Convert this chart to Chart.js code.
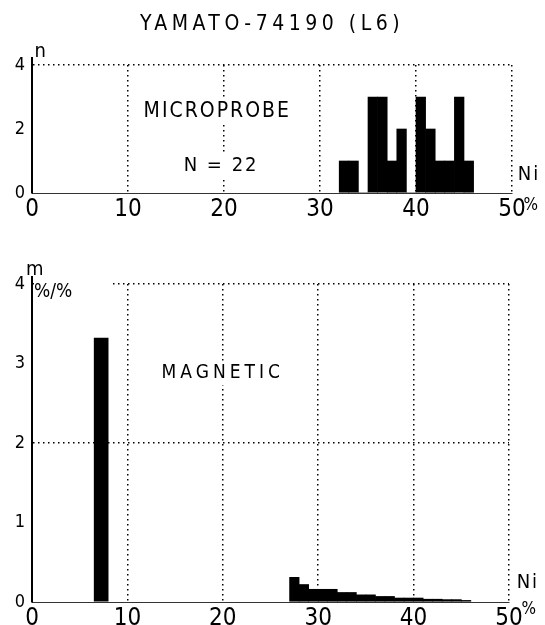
<!DOCTYPE html>
<html lang="en">
<head>
<meta charset="UTF-8">
<title>YAMATO-74190 (L6)</title>
<script src="https://cdn.jsdelivr.net/npm/chart.js@4.4.1/dist/chart.umd.min.js"></script>
<style>
  body { margin: 0; background: #fff; }
  #wrap { position: relative; width: 545px; height: 625px; }
  canvas { position: absolute; left: 0; }
  #top { top: 0; }
  #bottom { top: 240px; }
</style>
</head>
<body>
<div id="wrap">
  <canvas id="top" width="545" height="240"></canvas>
  <canvas id="bottom" width="545" height="385"></canvas>
</div>
<script>
// microprobe: grains per 1 % Ni bin (bin start, % Ni)
var probeBins   = [32, 33, 34, 35, 36, 37, 38, 39, 40, 41, 42, 43, 44, 45];
var probeCounts = [1,  1,  0,  3,  3,  1,  2,  0,  3,  2,  1,  1,  3,  1];

// magnetic fraction, wt % per % Ni
var kamaciteBin   = [6.5, 8];   // bin start, bin end
var kamaciteValue = [3.32];
var taeniteBins   = [27, 28, 29, 30, 31, 32, 33, 34, 35, 36, 37, 38, 39, 40, 41, 42, 43, 44, 45];
var taeniteValues = [0.31, 0.22, 0.16, 0.16, 0.16, 0.12, 0.12, 0.09, 0.09, 0.07, 0.07, 0.05, 0.05, 0.05, 0.035, 0.035, 0.03, 0.03, 0.02];

var xTicks      = [0, 10, 20, 30, 40, 50];
var probeYTicks = [0, 2, 4];
var magYTicks   = [0, 1, 2, 3, 4];

var FONT = "'DejaVu Sans Condensed', 'DejaVu Sans', sans-serif";

var notesPlugin = {
  id: 'notes',
  beforeDatasetsDraw: function (chart, args, opts) {
    var xs = chart.scales.x, ys = chart.scales.y, ctx = chart.ctx;
    (opts.gaps || []).forEach(function (g) {
      var y = ys.getPixelForValue(g.y);
      ctx.save();
      ctx.fillStyle = '#fff';
      ctx.fillRect(xs.getPixelForValue(g.from) + 2, y - 2, xs.getPixelForValue(g.to) - xs.getPixelForValue(g.from) - 2, 4);
      ctx.restore();
    });
    // y axis runs on a little past the top tick
    ctx.save();
    ctx.strokeStyle = '#000';
    ctx.lineWidth = 2;
    ctx.beginPath();
    ctx.moveTo(xs.left, ys.top);
    ctx.lineTo(xs.left, ys.top - 8);
    ctx.stroke();
    ctx.restore();
  },
  afterDraw: function (chart, args, opts) {
    var xs = chart.scales.x, ys = chart.scales.y, ctx = chart.ctx;
    (opts.items || []).forEach(function (n) {
      var px = xs.getPixelForValue(n.x), py = ys.getPixelForValue(n.y);
      ctx.save();
      ctx.font = n.font;
      ctx.letterSpacing = n.spacing || '0px';
      ctx.textAlign = n.align || 'center';
      ctx.textBaseline = 'middle';
      if (n.clear) {
        var w = ctx.measureText(n.text).width;
        var x0 = n.align === 'left' ? px : px - w / 2;
        ctx.fillStyle = '#fff';
        ctx.fillRect(x0 - 4, py - n.clear / 2, w + 8, n.clear);
      }
      ctx.fillStyle = '#000';
      ctx.fillText(n.text, px, py);
      ctx.restore();
    });
  }
};

function xScale(height) {
  return {
    type: 'linear',
    min: 0,
    max: 50,
    offset: false,
    afterBuildTicks: function (s) { s.ticks = xTicks.map(function (v) { return { value: v }; }); },
    afterFit: function (s) { s.height = height; },
    grid: {
      offset: false,
      drawTicks: false,
      lineWidth: 1.5,
      color: function (c) { return c.tick && c.tick.value === 0 ? 'rgba(0,0,0,0)' : '#000'; }
    },
    border: { color: '#333', width: 1, dash: [1.5, 3.5] },
    ticks: { color: '#000', padding: 2, maxRotation: 0, font: { family: FONT, size: 24 } }
  };
}

function yScale(ticks, lines) {
  return {
    min: 0,
    max: 4,
    afterBuildTicks: function (s) { s.ticks = ticks.map(function (v) { return { value: v }; }); },
    afterFit: function (s) { s.width = 32; },
    grid: {
      drawTicks: false,
      lineWidth: 1.5,
      color: function (c) { return c.tick && lines.indexOf(c.tick.value) >= 0 ? '#000' : 'rgba(0,0,0,0)'; }
    },
    border: { color: '#000', width: 2, dash: [1.5, 3.5] },
    ticks: { color: '#000', padding: 7, font: { family: FONT, size: 18 } }
  };
}

var barStyle = { backgroundColor: '#000', borderWidth: 0, barPercentage: 1, categoryPercentage: 1, grouped: false };

new Chart(document.getElementById('top'), {
  type: 'bar',
  data: {
    datasets: [Object.assign({
      label: 'microprobe',
      data: probeBins.map(function (b, i) { return { x: b + 0.5, y: probeCounts[i] }; })
    }, barStyle)]
  },
  options: {
    responsive: false,
    animation: false,
    layout: { padding: { top: 65, right: 33, bottom: 17, left: 0 } },
    scales: { x: xScale(30), y: yScale(probeYTicks, [4]) },
    plugins: {
      legend: { display: false },
      tooltip: { enabled: false },
      notes: {
        items: [
          { text: 'YAMATO-74190 (L6)', x: 25, y: 5.25, font: '21px ' + FONT, spacing: '4.5px' },
          { text: 'MICROPROBE', x: 19.3, y: 2.56, font: '21px ' + FONT, spacing: '2px', clear: 24 },
          { text: 'N = 22', x: 19.7, y: 0.84, font: '20px ' + FONT, spacing: '2px', clear: 24 },
          { text: 'n', x: 0.85, y: 4.4, font: '20px ' + FONT },
          { text: 'Ni', x: 50.6, y: 0.56, font: '20px ' + FONT, align: 'left', spacing: '2px' },
          { text: '%', x: 51.2, y: -0.38, font: '17px ' + FONT, align: 'left' }
        ]
      }
    }
  },
  plugins: [notesPlugin]
});

new Chart(document.getElementById('bottom'), {
  type: 'bar',
  data: {
    datasets: [
      Object.assign({
        label: 'kamacite',
        barThickness: 14,
        data: kamaciteValue.map(function (v) { return { x: (kamaciteBin[0] + kamaciteBin[1]) / 2, y: v }; })
      }, barStyle),
      Object.assign({
        label: 'taenite',
        data: taeniteBins.map(function (b, i) { return { x: b + 0.5, y: taeniteValues[i] }; })
      }, barStyle)
    ]
  },
  options: {
    responsive: false,
    animation: false,
    layout: { padding: { top: 44, right: 36, bottom: 0, left: 0 } },
    scales: { x: xScale(23), y: yScale(magYTicks, [2, 4]) },
    plugins: {
      legend: { display: false },
      tooltip: { enabled: false },
      notes: {
        gaps: [{ y: 4, from: 0, to: 8.2 }],
        items: [
          { text: 'MAGNETIC', x: 20, y: 2.88, font: '19px ' + FONT, spacing: '4px', clear: 24 },
          { text: 'm', x: 0.3, y: 4.18, font: '20px ' + FONT },
          { text: '%/%', x: 0.2, y: 3.9, font: '19px ' + FONT, align: 'left' },
          { text: 'Ni', x: 50.8, y: 0.24, font: '20px ' + FONT, align: 'left', spacing: '2px' },
          { text: '%', x: 51.3, y: -0.09, font: '17px ' + FONT, align: 'left' }
        ]
      }
    }
  },
  plugins: [notesPlugin]
});
</script>
</body>
</html>
